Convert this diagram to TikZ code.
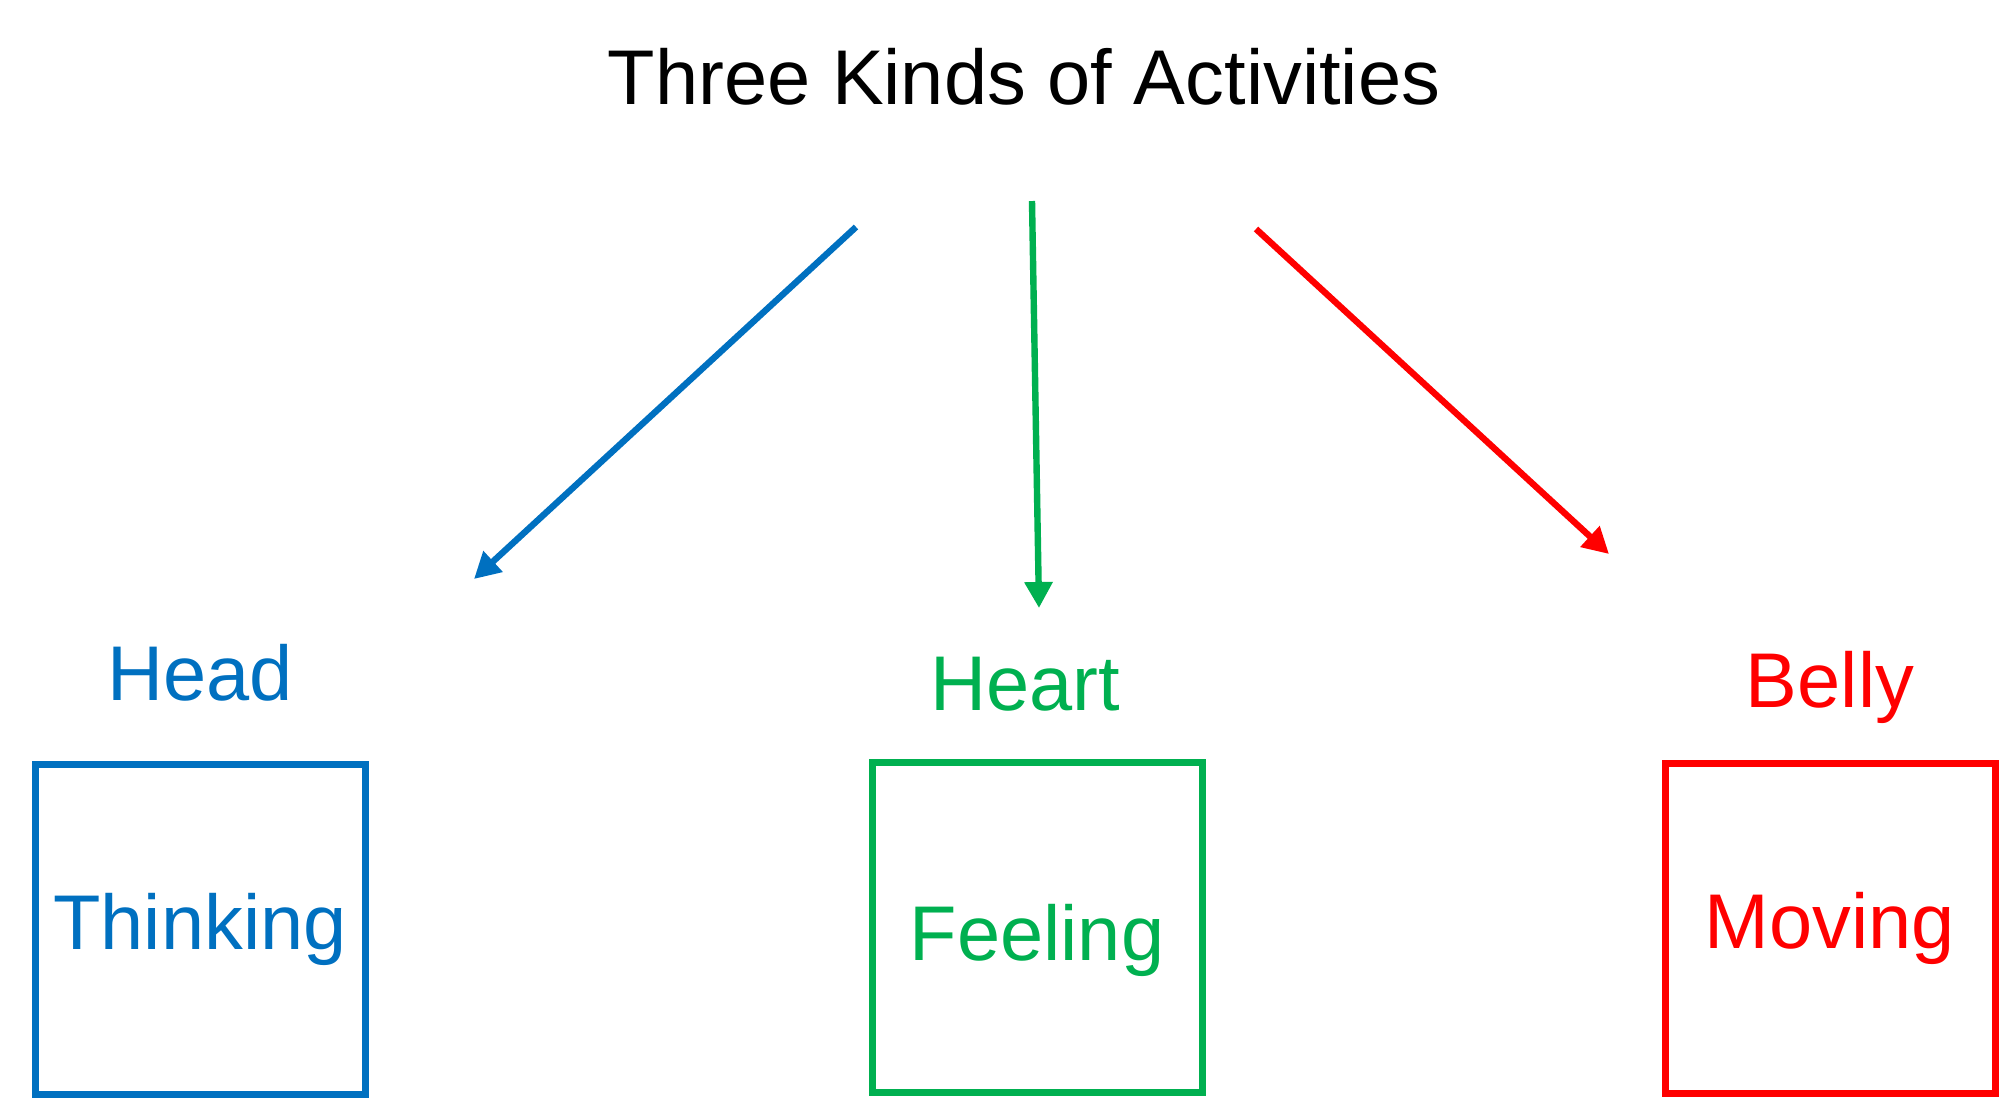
\documentclass[tikz,border=0pt]{standalone}
\usepackage{fontspec}
\setmainfont{Liberation Sans}
\usetikzlibrary{positioning,arrows.meta}
\definecolor{headblue}{HTML}{0070C0}
\definecolor{heartgreen}{HTML}{00B050}
\definecolor{bellyred}{HTML}{FF0000}
\tikzset{
    bigtext/.style={font=\fontsize{38.8}{46}\selectfont},
    centrebox/.style={bigtext, draw, line width=3.5pt, minimum size=165pt, inner sep=0pt},
    centrelabel/.style={bigtext, inner sep=0pt, text depth=0pt},
    pointer/.style={line width=3.2pt, -{Triangle[width=13.5pt,length=13pt]}}
}
\begin{document}
\begin{tikzpicture}[x=0.5pt,y=-0.5pt]
    \useasboundingbox (0,0) rectangle (2007,1100);
    \node (title) [bigtext, anchor=base] at (1024,104) {Three Kinds of Activities};

    \node (thinking) [centrebox, headblue] at (200,929) {Thinking};
    \node (feeling)  [centrebox, heartgreen, text height=42pt] at (1037,927) {Feeling};
    \node (moving)   [centrebox, bellyred] at (1830,928) {Moving};

    \node (head)  [centrelabel, headblue, above=30pt of thinking] {Head};
    \node (heart) [centrelabel, heartgreen, above=24pt of feeling, xshift=-6pt] {Heart};
    \node (belly) [centrelabel, bellyred, above=26pt of moving] {Belly};

    \coordinate (headfrom)  at (856,227);
    \coordinate (headto)    at (474,579);
    \coordinate (heartfrom) at (1032,201);
    \coordinate (heartto)   at (1039,608);
    \coordinate (bellyfrom) at (1256,229);
    \coordinate (bellyto)   at (1609,554);

    \draw[pointer, headblue] (headfrom) -- (headto);
    \draw[pointer, heartgreen] (heartfrom) -- (heartto);
    \draw[pointer, bellyred] (bellyfrom) -- (bellyto);
\end{tikzpicture}
\end{document}
